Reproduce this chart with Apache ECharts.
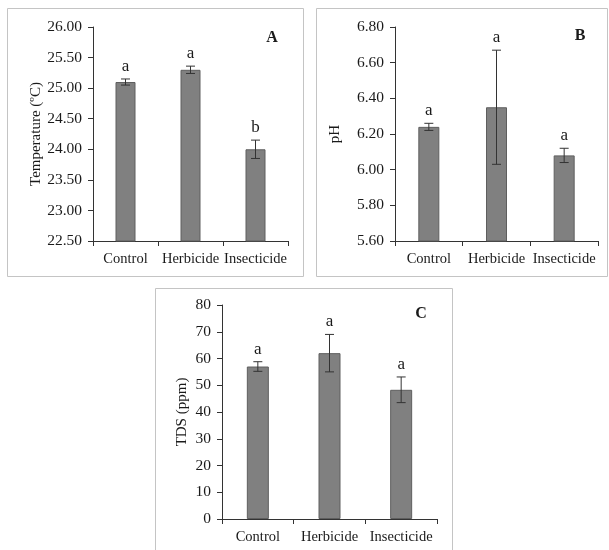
<!DOCTYPE html>
<html>
<head>
<meta charset="utf-8">
<script src="https://cdn.jsdelivr.net/npm/echarts@6/dist/echarts.min.js"></script>
<style>
html,body{margin:0;padding:0;background:#fff;}
#chart{width:609px;height:550px;}
</style>
</head>
<body>
<div id="chart"></div>
<script>
const categories = ['Control', 'Herbicide', 'Insecticide'];

const tempMean = [25.10, 25.30, 24.00];
const tempErr = [0.05, 0.06, 0.15];
const tempLetters = ['a', 'a', 'b'];
const tempTicks = { min: 22.5, max: 26.0, interval: 0.5 };

const phMean = [6.24, 6.35, 6.08];
const phErr = [0.02, 0.32, 0.04];
const phLetters = ['a', 'a', 'a'];
const phTicks = { min: 5.6, max: 6.8, interval: 0.2 };

const tdsMean = [57, 62, 48.3];
const tdsErr = [1.8, 7, 4.8];
const tdsLetters = ['a', 'a', 'a'];
const tdsTicks = { min: 0, max: 80, interval: 10 };

const FONT = '"Liberation Serif", "Times New Roman", serif';
const TXT = '#1a1a1a';

function xAxisFor(gi) {
  return {
    type: 'category', gridIndex: gi, data: categories,
    axisLine: { lineStyle: { color: '#333', width: 1 } },
    axisTick: { show: true, alignWithLabel: false, length: 5, lineStyle: { color: '#333' } },
    axisLabel: { fontFamily: FONT, fontSize: 14.5, color: TXT, margin: 11, interval: 0 }
  };
}
function yAxisFor(gi, t, name, gap, dec) {
  return {
    type: 'value', gridIndex: gi, min: t.min, max: t.max, interval: t.interval,
    name: name, nameLocation: 'middle', nameGap: gap, nameRotate: 90,
    nameTextStyle: { fontFamily: FONT, fontSize: 15, color: TXT },
    axisLine: { show: true, lineStyle: { color: '#333', width: 1 } },
    axisTick: { show: true, length: 5, lineStyle: { color: '#333' } },
    splitLine: { show: false },
    axisLabel: { fontFamily: FONT, fontSize: 15.5, color: TXT, margin: 11,
      formatter: v => v.toFixed(dec) }
  };
}
function barSeries(gi, data, w) {
  return {
    type: 'bar', xAxisIndex: gi, yAxisIndex: gi, data: data, barWidth: w,
    itemStyle: { color: '#808080', borderColor: '#5e5e5e', borderWidth: 1 },
    silent: true
  };
}
function errSeries(gi, means, errs, letters) {
  return {
    type: 'custom', xAxisIndex: gi, yAxisIndex: gi,
    data: means.map((m, i) => [i, m, errs[i]]),
    clip: false, silent: true, z: 5,
    renderItem: function (params, api) {
      const i = api.value(0), m = api.value(1), e = api.value(2);
      const top = api.coord([i, m + e]);
      const bot = api.coord([i, m - e]);
      const x = top[0], hw = 4.5;
      const st = { stroke: '#333', lineWidth: 1 };
      return {
        type: 'group',
        children: [
          { type: 'line', shape: { x1: x, y1: top[1], x2: x, y2: bot[1] }, style: st },
          { type: 'line', shape: { x1: x - hw, y1: top[1], x2: x + hw, y2: top[1] }, style: st },
          { type: 'line', shape: { x1: x - hw, y1: bot[1], x2: x + hw, y2: bot[1] }, style: st },
          { type: 'text', style: { text: letters[params.dataIndex], x: x, y: top[1] - 4,
              align: 'center', verticalAlign: 'bottom', font: '17px ' + FONT, fill: TXT } }
        ]
      };
    }
  };
}

const chart = echarts.init(document.getElementById('chart'), null, { renderer: 'canvas' });
chart.setOption({
  animation: false,
  backgroundColor: '#fff',
  grid: [
    { left: 93, top: 27, width: 195, height: 214 },
    { left: 395, top: 27, width: 203, height: 214 },
    { left: 222, top: 305, width: 215, height: 214 }
  ],
  xAxis: [xAxisFor(0), xAxisFor(1), xAxisFor(2)],
  yAxis: [
    yAxisFor(0, tempTicks, 'Temperature (ºC)', 49, 2),
    yAxisFor(1, phTicks, 'pH', 52, 2),
    yAxisFor(2, tdsTicks, 'TDS (ppm)', 32, 0)
  ],
  series: [
    barSeries(0, tempMean, 20), errSeries(0, tempMean, tempErr, tempLetters),
    barSeries(1, phMean, 21), errSeries(1, phMean, phErr, phLetters),
    barSeries(2, tdsMean, 22), errSeries(2, tdsMean, tdsErr, tdsLetters)
  ],
  graphic: [
    { type: 'rect', shape: { x: 7.5, y: 8.5, width: 296, height: 268 }, style: { fill: 'none', stroke: '#c4c4c4', lineWidth: 1 } },
    { type: 'rect', shape: { x: 316.5, y: 8.5, width: 291, height: 268 }, style: { fill: 'none', stroke: '#c4c4c4', lineWidth: 1 } },
    { type: 'rect', shape: { x: 155.5, y: 288.5, width: 297, height: 275 }, style: { fill: 'none', stroke: '#c4c4c4', lineWidth: 1 } },
    { type: 'text', style: { text: 'A', x: 272, y: 38, align: 'center', verticalAlign: 'middle', font: 'bold 16px ' + FONT, fill: TXT } },
    { type: 'text', style: { text: 'B', x: 580, y: 36, align: 'center', verticalAlign: 'middle', font: 'bold 16px ' + FONT, fill: TXT } },
    { type: 'text', style: { text: 'C', x: 421, y: 314, align: 'center', verticalAlign: 'middle', font: 'bold 16px ' + FONT, fill: TXT } }
  ]
});
</script>
</body>
</html>
